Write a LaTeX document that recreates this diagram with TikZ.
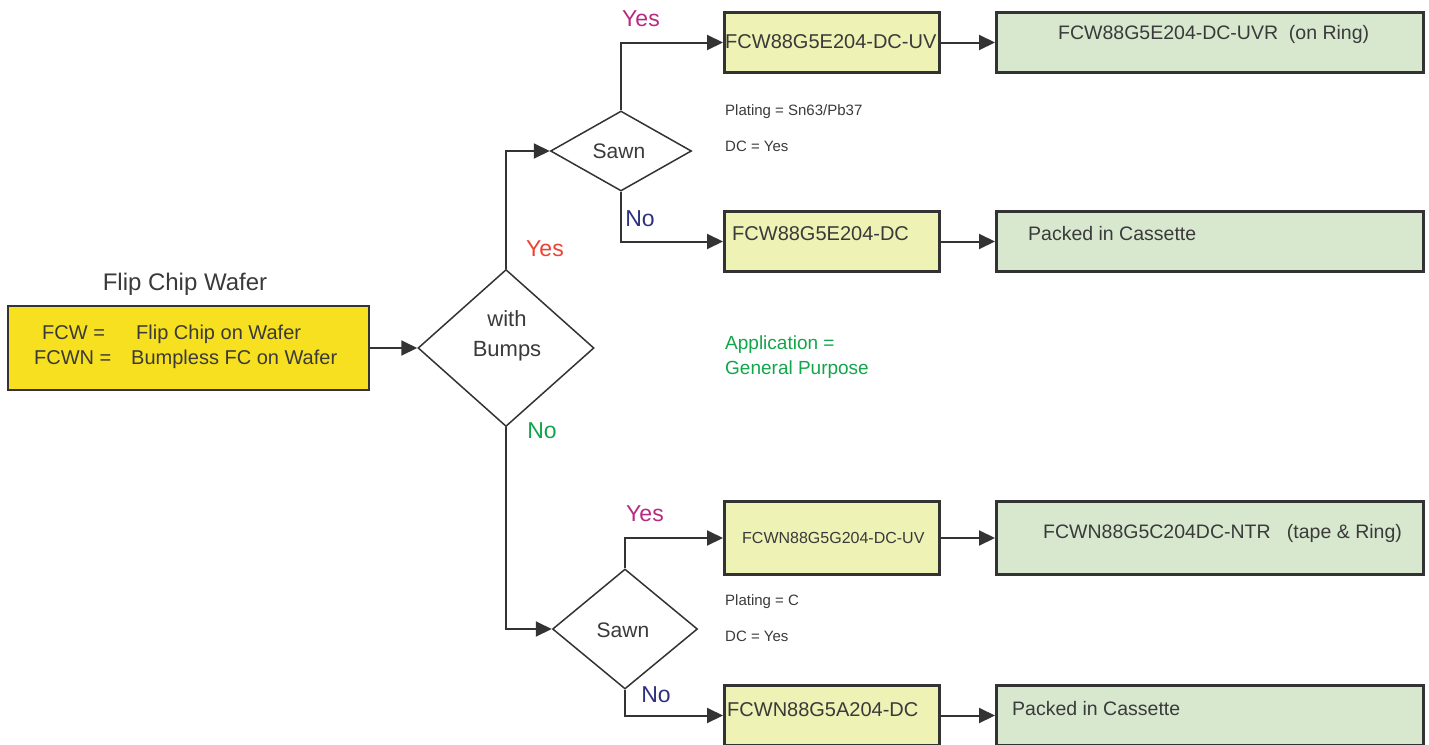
\documentclass[tikz,border=0pt]{standalone}
\usepackage{fontspec}
\setmainfont{Liberation Sans}
\usetikzlibrary{shapes.geometric,arrows.meta}
\definecolor{bordc}{HTML}{333333}
\definecolor{txtc}{HTML}{3A3A3A}
\definecolor{mainy}{HTML}{F7E01F}
\definecolor{paley}{HTML}{EEF2B5}
\definecolor{paleg}{HTML}{D7E8CF}
\definecolor{yesred}{HTML}{EF4130}
\definecolor{yesmag}{HTML}{B72A80}
\definecolor{noblue}{HTML}{2E3180}
\definecolor{nogreen}{HTML}{12A54A}
\tikzset{
  ybox/.style={draw=bordc, line width=3pt, fill=paley, rectangle, inner sep=0pt, anchor=north west, minimum width=215pt},
  gbox/.style={draw=bordc, line width=3pt, fill=paleg, rectangle, inner sep=0pt, anchor=north west, minimum width=427pt},
  dec/.style={draw=bordc, line width=1.5pt, diamond, inner sep=0pt, fill=white},
  txt/.style={text=txtc, inner sep=0pt, anchor=base west},
  conn/.style={draw=bordc, line width=2pt, -{Triangle[length=16pt,width=15pt]}},
  lbl/.style={inner sep=0pt, font=\fontsize{23}{27}\selectfont}
}
\begin{document}
\begin{tikzpicture}[x=1pt,y=-1pt]
\useasboundingbox (0,0) rectangle (1429,744);
% main box
\node[draw=bordc, line width=2pt, fill=mainy, rectangle, inner sep=0pt, anchor=north west, minimum width=361pt, minimum height=84pt] (main) at (7,305) {};
\node[txt, anchor=base, font=\fontsize{24}{28}\selectfont] (title) at (185,290) {Flip Chip Wafer};
\node[txt, font=\fontsize{20}{24}\selectfont] (t1a) at (42,339) {FCW =};
\node[txt, font=\fontsize{20}{24}\selectfont] (t1b) at (136,339) {Flip Chip on Wafer};
\node[txt, font=\fontsize{20}{24}\selectfont] (t2a) at (34,364) {FCWN =};
\node[txt, font=\fontsize{20}{24}\selectfont] (t2b) at (131,364) {Bumpless FC on Wafer};
% diamonds
\node[dec, minimum width=176pt, minimum height=157pt] (big) at (506,348) {};
\node[txt, anchor=base, font=\fontsize{22}{26}\selectfont] (bw) at (507,326) {with};
\node[txt, anchor=base, font=\fontsize{22}{26}\selectfont] (bb) at (507,356) {Bumps};
\node[dec, minimum width=141pt, minimum height=80pt] (s1) at (621,151) {};
\node[txt, anchor=base, font=\fontsize{21}{25}\selectfont] (s1t) at (619,158) {Sawn};
\node[dec, minimum width=145pt, minimum height=120pt] (s2) at (625,629) {};
\node[txt, anchor=base, font=\fontsize{21}{25}\selectfont] (s2t) at (623,637) {Sawn};
% yellow boxes
\node[ybox, minimum height=60pt] (uv1) at (723,11) {};
\node[ybox, minimum height=60pt] (dc1) at (723,210) {};
\node[ybox, minimum height=73pt] (uv2) at (723,500) {};
\node[ybox, minimum height=60pt] (dc2) at (723,684) {};
% green boxes
\node[gbox, minimum height=60pt] (r1) at (995,11) {};
\node[gbox, minimum height=60pt] (r2) at (995,210) {};
\node[gbox, minimum height=73pt] (r3) at (995,500) {};
\node[gbox, minimum height=60pt] (r4) at (995,684) {};
% box texts
\node[txt, font=\fontsize{20}{24}\selectfont] (uv1t) at (725,48) {FCW88G5E204-DC-UV};
\node[txt, font=\fontsize{20}{24}\selectfont] (dc1t) at (732,240) {FCW88G5E204-DC};
\node[txt, font=\fontsize{16}{19}\selectfont] (uv2t) at (742,543) {FCWN88G5G204-DC-UV};
\node[txt, font=\fontsize{20}{24}\selectfont] (dc2t) at (727,716) {FCWN88G5A204-DC};
\node[txt, font=\fontsize{19.5}{24}\selectfont] (r1t) at (1058,39) {FCW88G5E204-DC-UVR\ \ (on Ring)};
\node[txt, font=\fontsize{19.5}{24}\selectfont] (r2t) at (1028,240) {Packed in Cassette};
\node[txt, font=\fontsize{19.5}{24}\selectfont] (r3t) at (1043,538) {FCWN88G5C204DC-NTR\ \ \ (tape \& Ring)};
\node[txt, font=\fontsize{19.5}{24}\selectfont] (r4t) at (1012,715) {Packed in Cassette};
% notes
\node[txt, font=\fontsize{15}{18}\selectfont] (p1) at (725,115) {Plating = Sn63/Pb37};
\node[txt, font=\fontsize{15}{18}\selectfont] (d1) at (725,151) {DC = Yes};
\node[txt, font=\fontsize{15}{18}\selectfont] (p2) at (725,605) {Plating = C};
\node[txt, font=\fontsize{15}{18}\selectfont] (d2) at (725,641) {DC = Yes};
\node[txt, text=nogreen, font=\fontsize{19}{23}\selectfont] (ap1) at (725,349) {Application =};
\node[txt, text=nogreen, font=\fontsize{19}{23}\selectfont] (ap2) at (725,374) {General Purpose};
% yes/no labels
\node[lbl, text=yesred] (ly1) at (545,249) {Yes};
\node[lbl, text=nogreen] (ln1) at (542,431) {No};
\node[lbl, text=yesmag] (ly2) at (641,19) {Yes};
\node[lbl, text=noblue] (ln2) at (640,219) {No};
\node[lbl, text=yesmag] (ly3) at (645,514) {Yes};
\node[lbl, text=noblue] (ln3) at (656,695) {No};
% connectors
\draw[conn] (main.east) -- (big.west);
\draw[conn] (big.north) |- (s1.west);
\draw[conn] (big.south) |- (s2.west);
\draw[conn] (s1.north) |- (uv1.west);
\draw[conn] (s1.south) |- (dc1.west);
\draw[conn] (s2.north) |- (uv2.west);
\draw[conn] (s2.south) |- (dc2.west);
\draw[conn] (uv1.east) -- (r1.west);
\draw[conn] (dc1.east) -- (r2.west);
\draw[conn] (uv2.east) -- (r3.west);
\draw[conn] (dc2.east) -- (r4.west);
\end{tikzpicture}
\end{document}
